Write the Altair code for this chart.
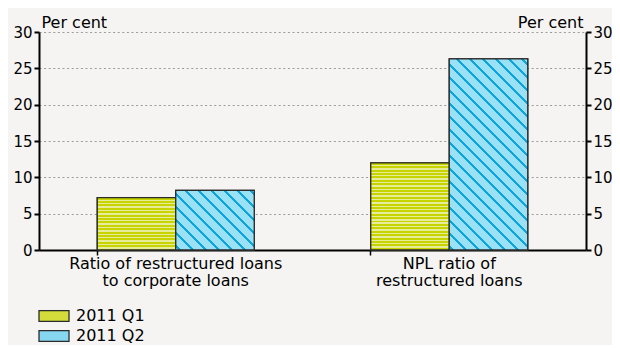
import json
import math
import altair as alt
import pandas as pd

# ---------------- data ----------------
categories = ["Ratio of restructured loans to corporate loans",
              "NPL ratio of restructured loans"]
category_lines = [["Ratio of restructured loans", "to corporate loans"],
                  ["NPL ratio of", "restructured loans"]]
series = ["2011 Q1", "2011 Q2"]
q1_values = [7.2, 12.0]
q2_values = [8.2, 26.3]
y_ticks = [0, 5, 10, 15, 20, 25, 30]
y_title = "Per cent"

# ---------------- layout / style ----------------
W, H = 547, 218
YMAX = 30
PAD_IN, PAD_OUT = 0.426, 0.213
FONT = "DejaVu Sans"
FS = 16
FS_Y = 15
BG = "#f5f4f2"
Q1_DARK, Q1_LIGHT = "#c8d400", "#e6ec98"
Q2_BG, Q2_LINE = "#9ae1f5", "#0ea4dc"
EDGE = "#2b2b2b"

step = W / (len(categories) - PAD_IN + 2 * PAD_OUT)
bar_w = step * (1 - PAD_IN) / 2

rows = []
for c, a, b in zip(categories, q1_values, q2_values):
    rows.append({"category": c, "series": series[0], "value": a})
    rows.append({"category": c, "series": series[1], "value": b})
df = pd.DataFrame(rows)


def hstripes(h, period=3.4, dark_w=1.9):
    stops = []
    y = 0.0
    while y < h:
        a, b, c = y / h, min((y + dark_w) / h, 1), min((y + period) / h, 1)
        stops += [{"offset": a, "color": Q1_DARK}, {"offset": b, "color": Q1_DARK},
                  {"offset": b, "color": Q1_LIGHT}, {"offset": c, "color": Q1_LIGHT}]
        y += period
    return {"gradient": "linear", "x1": 0, "y1": 0, "x2": 0, "y2": 1, "stops": stops}


def dstripes(w, h, period=13.0, lw=2.6, off=4.0):
    L = w + h
    k = L / (w * w + h * h)
    stops = [{"offset": 0, "color": Q2_BG}]
    f = off
    while f < L:
        a, b = max(f - lw / 2, 0) / L, min(f + lw / 2, L) / L
        stops += [{"offset": a, "color": Q2_BG}, {"offset": a, "color": Q2_LINE},
                  {"offset": b, "color": Q2_LINE}, {"offset": b, "color": Q2_BG}]
        f += period
    stops.append({"offset": 1, "color": Q2_BG})
    return {"gradient": "linear", "x1": 0, "y1": 1, "x2": k * w, "y2": 1 - k * h,
            "stops": stops}


label_expr = "datum.value == {} ? {} : {}".format(
    json.dumps(categories[0]), json.dumps(category_lines[0]), json.dumps(category_lines[1]))

x_scale = alt.Scale(domain=categories, paddingInner=PAD_IN, paddingOuter=PAD_OUT)
x_labels = alt.X("category:N", sort=categories, title=None, scale=x_scale,
                 axis=alt.Axis(orient="bottom", labelExpr=label_expr, labelAngle=0,
                               labelFont=FONT, labelFontSize=FS, labelColor="#000",
                               labelLineHeight=17, labelPadding=5, labelLimit=400,
                               domainColor="#000", domainWidth=2, ticks=False,
                               grid=False))
x_ticks = alt.X("category:N", sort=categories, title=None, scale=x_scale,
                axis=alt.Axis(orient="bottom", labels=False, domain=False, grid=False,
                              ticks=True, bandPosition=0, tickColor="#000",
                              tickWidth=1.5, tickSize=5))
x_none = alt.X("category:N", sort=categories, title=None, scale=x_scale, axis=None)
xo_enc = alt.XOffset("series:N", sort=series, scale=alt.Scale(domain=series, padding=0))

axis_common = dict(values=y_ticks, labelFont=FONT, labelFontSize=FS_Y, labelColor="#000",
                   labelPadding=2, domainColor="#000", domainWidth=2, tickColor="#000",
                   tickWidth=2, tickSize=5, title=y_title, titleAngle=0,
                   titleFont=FONT, titleFontSize=FS, titleFontWeight="normal",
                   titleColor="#000", titleBaseline="alphabetic", titleY=-5)
y_scale = alt.Scale(domain=[0, YMAX], nice=False)

y_left = alt.Y("value:Q", scale=y_scale,
               axis=alt.Axis(orient="left", grid=True, gridColor="#9a9a9a",
                             gridDash=[2, 2.6], gridWidth=1, titleAlign="left", titleX=2,
                             **axis_common))
y_right = alt.Y("value:Q", scale=y_scale,
                axis=alt.Axis(orient="right", grid=False, titleAlign="right", titleX=-3,
                              **axis_common))
y_none = alt.Y("value:Q", scale=y_scale, axis=None)

base = alt.Chart(df)

flat = base.mark_bar(stroke=EDGE, strokeWidth=1.3).encode(
    x=x_labels, xOffset=xo_enc, y=y_left,
    fill=alt.Fill("series:N", scale=alt.Scale(domain=series, range=["#d3dc3a", "#86d6ef"]),
                  legend=alt.Legend(orient="none", legendX=-1, legendY=278, title=None,
                                    direction="vertical", padding=0,
                                    symbolType="M-1,-0.36H1V0.36H-1Z", symbolSize=900,
                                    symbolStrokeColor=EDGE, symbolStrokeWidth=1.3,
                                    symbolOpacity=1, labelFont=FONT, labelFontSize=FS,
                                    labelColor="#000", labelOffset=6, clipHeight=12,
                                    rowPadding=4)))

layers = [flat]
idx = 0
for c, a, b in zip(categories, q1_values, q2_values):
    for s, v in ((series[0], a), (series[1], b)):
        h = v / YMAX * H
        grad = hstripes(h) if s == series[0] else dstripes(bar_w, h)
        lyr = base.transform_filter(
            (alt.datum.category == c) & (alt.datum.series == s)
        ).mark_bar(fill=grad, stroke=EDGE, strokeWidth=1.3).encode(
            x=(x_ticks if idx == 0 else x_none), xOffset=xo_enc,
            y=(y_right if idx == 0 else y_none))
        idx += 1
        layers.append(lyr)

chart = alt.layer(*layers).resolve_axis(y="independent", x="independent").properties(
    width=W, height=H,
    autosize=alt.AutoSizeParams(type="none"),
    padding={"left": 31, "top": 24, "right": 26, "bottom": 95},
    background=BG,
).configure_view(stroke=None)

chart.save("out.html", embed_options={"renderer": "svg", "actions": False})
